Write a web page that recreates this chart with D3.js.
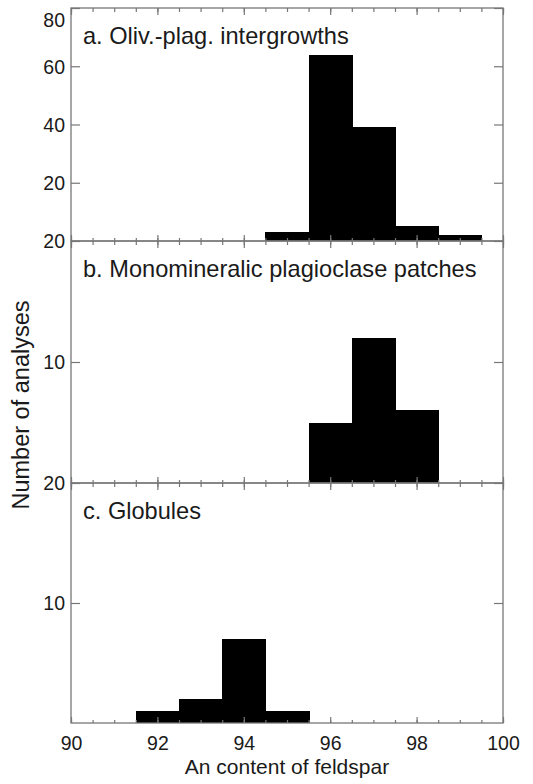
<!DOCTYPE html>
<html lang="en">
<head>
<meta charset="utf-8">
<title>An content histograms</title>
<script src="https://cdn.jsdelivr.net/npm/d3@7"></script>
<style>
  body { margin: 0; background: #fff; }
  svg text { font-family: "Liberation Sans", Arial, Helvetica, sans-serif; fill: #1a1a1a; }
</style>
</head>
<body>
<script>
// histogram bins (An %, centred on integers) and counts per panel
var binsA = [95, 96, 97, 98, 99];
var countsA = [3, 64, 39, 5, 2];
var binsB = [96, 97, 98];
var countsB = [5, 12, 6];
var binsC = [92, 93, 94, 95];
var countsC = [1, 2, 7, 1];

var panelTitles = ["a. Oliv.-plag. intergrowths", "b. Monomineralic plagioclase patches", "c. Globules"];
var yMaxes = [80, 20, 20];
var yTicksA = [20, 40, 60, 80];
var yTicksB = [10, 20];
var yTicksC = [10, 20];
var xMajorTicks = [90, 92, 94, 96, 98, 100];
var xMinorTicks = d3.range(90, 100.01, 0.5);

var width = 533, height = 784;
var left = 71, right = 503;
// panel top / bottom pixel edges
var panelEdges = [[8, 241], [241, 483], [483, 723]];
var lineColor = "#777";

var svg = d3.select("body").append("svg")
  .attr("width", width)
  .attr("height", height);

var x = d3.scaleLinear().domain([90, 100]).range([left, right]);

var panels = [
  {bins: binsA, counts: countsA, ticks: yTicksA},
  {bins: binsB, counts: countsB, ticks: yTicksB},
  {bins: binsC, counts: countsC, ticks: yTicksC}
];

panels.forEach(function(p, i) {
  var top = panelEdges[i][0], bottom = panelEdges[i][1];
  var y = d3.scaleLinear().domain([0, yMaxes[i]]).range([bottom, top]);
  var g = svg.append("g").attr("class", "panel");

  // bars (crisp so neighbouring bins don't show seams)
  g.selectAll("rect.bar")
    .data(p.bins.map(function(b, j) { return {bin: b, n: p.counts[j]}; }))
    .enter().append("rect")
    .attr("class", "bar")
    .attr("x", function(d) { return Math.round(x(d.bin - 0.5)); })
    .attr("width", function(d) { return Math.round(x(d.bin + 0.5)) - Math.round(x(d.bin - 0.5)) + 0.5; })
    .attr("y", function(d) { return y(d.n); })
    .attr("height", function(d) { return y(0) - y(d.n); })
    .attr("shape-rendering", "crispEdges")
    .style("fill", "#000");

  // frame
  g.append("rect")
    .attr("x", left).attr("y", top)
    .attr("width", right - left).attr("height", bottom - top)
    .style("fill", "none").style("stroke", lineColor).style("stroke-width", 1.3);

  // x ticks, bottom (pointing up) and top (pointing down)
  function xTicks(axisFn, ypos, minorLen, majorLen) {
    var minor = g.append("g").attr("transform", "translate(0," + ypos + ")")
      .call(axisFn(x).tickValues(xMinorTicks).tickSize(-minorLen).tickFormat(""));
    var major = g.append("g").attr("transform", "translate(0," + ypos + ")")
      .call(axisFn(x).tickValues(xMajorTicks).tickSize(-majorLen).tickFormat(""));
    [minor, major].forEach(function(a) {
      a.select(".domain").remove();
      a.selectAll("line").style("stroke", lineColor).style("stroke-width", 1.2);
    });
  }
  xTicks(d3.axisBottom, bottom, 3, 6);
  xTicks(d3.axisTop, top, 4, 7);

  // y axis left with labels
  var yl = g.append("g").attr("transform", "translate(" + left + ",0)")
    .call(d3.axisLeft(y).tickValues(p.ticks).tickSize(-9).tickPadding(6));
  yl.select(".domain").remove();
  yl.selectAll("line").style("stroke", lineColor).style("stroke-width", 1.2);
  yl.selectAll("text")
    .style("font-size", "19.5px")
    .style("fill", "#1a1a1a")
    .attr("dy", function(d) { return y(d) < 15 ? "0.95em" : "0.35em"; });

  // y axis right, ticks only
  var yr = g.append("g").attr("transform", "translate(" + right + ",0)")
    .call(d3.axisRight(y).tickValues(p.ticks).tickSize(-9).tickFormat(""));
  yr.select(".domain").remove();
  yr.selectAll("line").style("stroke", lineColor).style("stroke-width", 1.2);

  // panel title
  g.append("text")
    .attr("x", 83)
    .attr("y", top + 36)
    .style("font-size", "23.6px")
    .text(panelTitles[i]);

  // x labels only on bottom panel
  if (i === panels.length - 1) {
    var xl = g.append("g").attr("transform", "translate(0," + bottom + ")")
      .call(d3.axisBottom(x).tickValues(xMajorTicks).tickSize(0).tickPadding(13));
    xl.select(".domain").remove();
    xl.selectAll("text").style("font-size", "19.5px").style("fill", "#1a1a1a");
  }
});

// axis titles
svg.append("text")
  .attr("x", (left + right) / 2)
  .attr("y", 774)
  .attr("text-anchor", "middle")
  .style("font-size", "21px")
  .text("An content of feldspar");

svg.append("text")
  .attr("transform", "translate(29,405) rotate(-90)")
  .attr("text-anchor", "middle")
  .style("font-size", "23.5px")
  .text("Number of analyses");
</script>
</body>
</html>
